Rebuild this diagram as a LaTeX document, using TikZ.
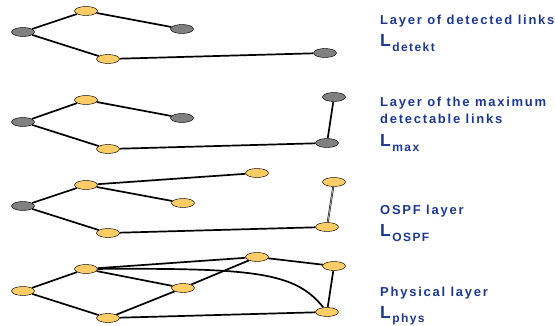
\documentclass[tikz,border=0pt]{standalone}
\usepackage{fontspec}
\setmainfont{Liberation Sans}
\newfontfamily\lblfont{Liberation Sans}[LetterSpace=13.5]
\newfontfamily\subfont{Liberation Sans}[LetterSpace=12]
\usetikzlibrary{shapes.geometric,backgrounds}
\definecolor{nodeY}{RGB}{255,204,102}
\definecolor{nodeG}{RGB}{128,128,128}
\definecolor{lblue}{RGB}{28,56,150}
\tikzset{
  nd/.style={ellipse, draw, line width=0.45pt, minimum width=23pt, minimum height=9pt, inner sep=0pt},
  yn/.style={nd, fill=nodeY},
  gn/.style={nd, fill=nodeG},
  lk/.style={line width=1.7pt},
  dlk/.style={line width=0.45pt, double=gray!70, double distance=0.9pt},
  ttl/.style={anchor=base west, inner sep=0pt, text=lblue, font=\lblfont\bfseries\fontsize{13}{15}\selectfont},
  subl/.style={anchor=base west, inner sep=0pt, text=lblue, font=\subfont\bfseries\fontsize{12}{14}\selectfont},
  bigL/.style={anchor=base west, inner sep=0pt, text=lblue, font=\lblfont\bfseries\fontsize{17.5}{18}\selectfont},
}
\begin{document}
\begin{tikzpicture}[x=1pt,y=-1pt]
\useasboundingbox (0,0) rectangle (555,326);
% Layer 1
\node[gn] (a1) at (23,32) {};
\node[yn] (b1) at (86,11) {};
\node[gn] (c1) at (182,29) {};
\node[yn] (d1) at (108,59) {};
\node[gn] (e1) at (325,53) {};
% Layer 2
\node[gn] (a2) at (23,122) {};
\node[yn] (b2) at (86,100) {};
\node[gn] (c2) at (182,118) {};
\node[yn] (d2) at (108,149) {};
\node[gn] (e2) at (327,143) {};
\node[gn] (f2) at (334,97) {};
% Layer 3
\node[gn] (a3) at (23,206) {};
\node[yn] (b3) at (86,185) {};
\node[yn] (c3) at (183,203) {};
\node[yn] (d3) at (108,233) {};
\node[yn] (e3) at (327,227) {};
\node[yn] (f3) at (334,182) {};
\node[yn] (g3) at (257,173) {};
% Layer 4
\node[yn] (a4) at (23,291) {};
\node[yn] (b4) at (86,269) {};
\node[yn] (c4) at (183,288) {};
\node[yn] (d4) at (108,318) {};
\node[yn] (e4) at (327,312) {};
\node[yn] (f4) at (334,266) {};
\node[yn] (g4) at (257,257) {};
\begin{scope}[on background layer]
\draw[lk] (a1) -- (b1) -- (c1);
\draw[lk] (a1) -- (d1) -- (e1);
\draw[lk] (a2) -- (b2) -- (c2);
\draw[lk] (a2) -- (d2) -- (e2) -- (f2);
\draw[lk] (a3) -- (b3) -- (c3);
\draw[lk] (b3) -- (g3);
\draw[lk] (a3) -- (d3) -- (e3);
\draw[dlk] (e3) -- (f3);
\draw[lk] (a4) -- (b4) -- (g4) -- (f4) -- (e4) -- (d4) -- (a4);
\draw[lk] (b4) -- (c4);
\draw[lk] (d4) -- (c4) -- (g4);
\draw[lk] (b4) .. controls (255,268) and (295,272) .. (e4);
\end{scope}
% Labels
\node[ttl] (t1) at (380,25) {Layer of detected links};
\node[bigL] (l1) at (380,47) {L};
\node[subl] (s1) at ([xshift=1pt,yshift=-4.5pt]l1.base east) {detekt};
\node[ttl] (t2) at (380,107) {Layer of the maximum};
\node[ttl] (t2b) at (380,124) {detectable links};
\node[bigL] (l2) at (380,147) {L};
\node[subl] (s2) at ([xshift=1pt,yshift=-4.5pt]l2.base east) {max};
\node[ttl] (t3) at (380,215) {OSPF layer};
\node[bigL] (l3) at (380,237) {L};
\node[subl] (s3) at ([xshift=1pt,yshift=-4.5pt]l3.base east) {OSPF};
\node[ttl] (t4) at (380,297) {Physical layer};
\node[bigL] (l4) at (380,319) {L};
\node[subl] (s4) at ([xshift=1pt,yshift=-4pt]l4.base east) {phys};
\end{tikzpicture}
\end{document}
